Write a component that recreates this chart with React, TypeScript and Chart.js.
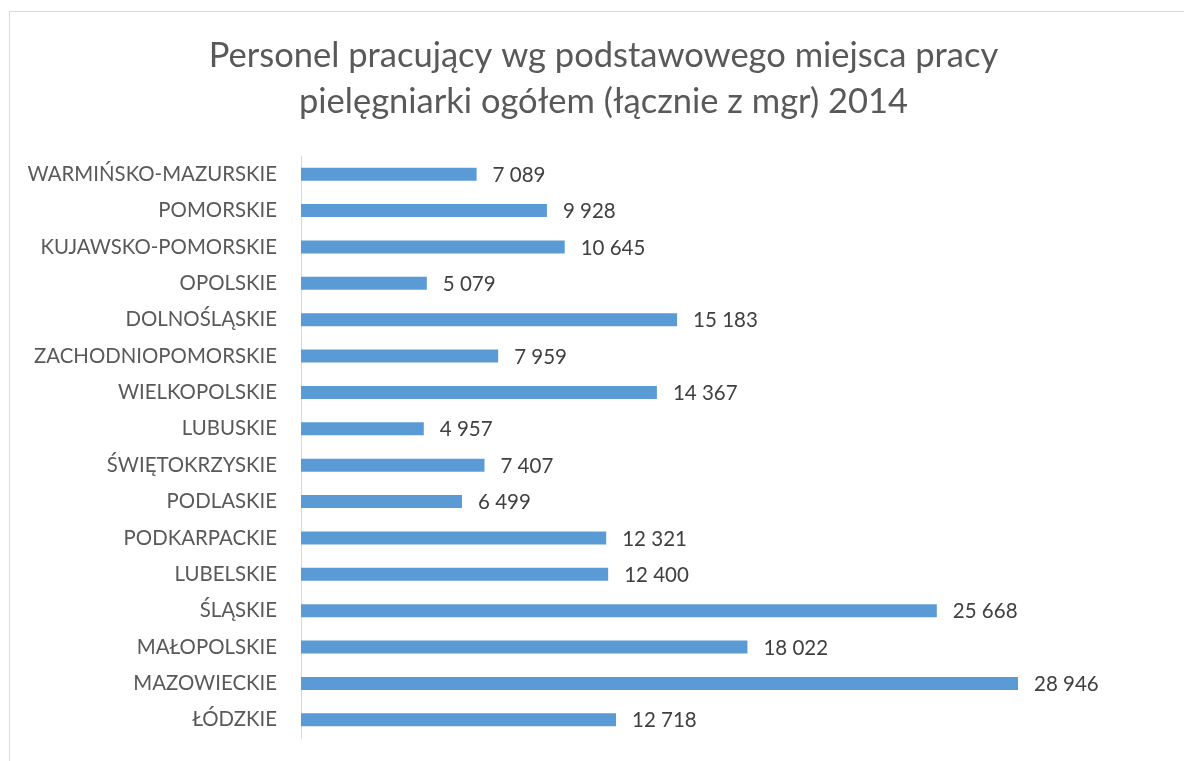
import React, { useEffect, useRef } from "react";
import { Chart, registerables } from "chart.js";

Chart.register(...registerables);

const titleLines = [
  "Personel pracujący wg podstawowego miejsca pracy",
  "pielęgniarki ogółem (łącznie z mgr) 2014",
];

const regions = [
  "WARMIŃSKO-MAZURSKIE",
  "POMORSKIE",
  "KUJAWSKO-POMORSKIE",
  "OPOLSKIE",
  "DOLNOŚLĄSKIE",
  "ZACHODNIOPOMORSKIE",
  "WIELKOPOLSKIE",
  "LUBUSKIE",
  "ŚWIĘTOKRZYSKIE",
  "PODLASKIE",
  "PODKARPACKIE",
  "LUBELSKIE",
  "ŚLĄSKIE",
  "MAŁOPOLSKIE",
  "MAZOWIECKIE",
  "ŁÓDZKIE",
];

const nurses = [
  7089, 9928, 10645, 5079, 15183, 7959, 14367, 4957, 7407, 6499, 12321, 12400,
  25668, 18022, 28946, 12718,
];

const axisMin = 0;
const axisMax = 35000;

const fmt = (v: number) => String(v).replace(/\B(?=(\d{3})+(?!\d))/g, " ");

const FONT = "Lato, 'Open Sans', sans-serif";

// Title centred on the whole chart (as in the spreadsheet chart)
const chartTitle = {
  id: "chartTitle",
  afterDraw(chart: any) {
    const { ctx, width } = chart;
    ctx.save();
    ctx.font = `34.5px ${FONT}`;
    ctx.fillStyle = "#595959";
    ctx.textAlign = "center";
    ctx.textBaseline = "alphabetic";
    ctx.fillText(titleLines[0], width / 2, 55);
    ctx.fillText(titleLines[1], width / 2, 101);
    ctx.restore();
  },
};

const dataLabels = {
  id: "dataLabels",
  afterDatasetsDraw(chart: any) {
    const { ctx } = chart;
    const meta = chart.getDatasetMeta(0);
    ctx.save();
    ctx.font = `20.5px ${FONT}`;
    ctx.fillStyle = "#404040";
    ctx.textAlign = "left";
    ctx.textBaseline = "middle";
    meta.data.forEach((bar: any, i: number) => {
      const v = chart.data.datasets[0].data[i];
      ctx.fillText(fmt(v), bar.x + 16, bar.y + 1);
    });
    ctx.restore();
  },
};

export default function App() {
  const ref = useRef<HTMLCanvasElement | null>(null);

  useEffect(() => {
    if (!ref.current) return;
    const chart = new Chart(ref.current, {
      type: "bar",
      data: {
        labels: regions,
        datasets: [
          {
            data: nurses,
            backgroundColor: "#5b9bd5",
            borderWidth: 0,
            barPercentage: 0.9,
            categoryPercentage: 0.4,
          },
        ],
      },
      options: {
        indexAxis: "y",
        responsive: false,
        animation: false,
        layout: { padding: { left: 0, right: 29, top: 144, bottom: 24 } },
        plugins: {
          legend: { display: false },
          tooltip: { enabled: false },
          title: { display: false },
        },
        scales: {
          x: {
            display: false,
            min: axisMin,
            max: axisMax,
          },
          y: {
            afterFit(scale: any) {
              scale.width = 291;
            },
            grid: {
              display: true,
              color: "transparent",
              drawOnChartArea: false,
              drawTicks: true,
              tickLength: 21,
            },
            border: { display: true, color: "#d9d9d9", width: 1 },
            ticks: {
              color: "#595959",
              font: { family: FONT, size: 20.4 },
              padding: 3,
              autoSkip: false,
            },
          },
        },
      },
      plugins: [dataLabels, chartTitle],
    });
    return () => chart.destroy();
  }, []);

  return (
    <div
      style={{
        position: "fixed",
        left: 0,
        top: 0,
        width: 1184,
        height: 761,
        overflow: "hidden",
        background: "#fff",
      }}
    >
      <div
        style={{
          position: "absolute",
          left: 9,
          top: 11,
          width: 1187,
          height: 760,
          border: "1px solid #d9d9d9",
          background: "#fff",
        }}
      >
        <canvas ref={ref} width={1187} height={750} style={{ display: "block" }} />
      </div>
    </div>
  );
}
